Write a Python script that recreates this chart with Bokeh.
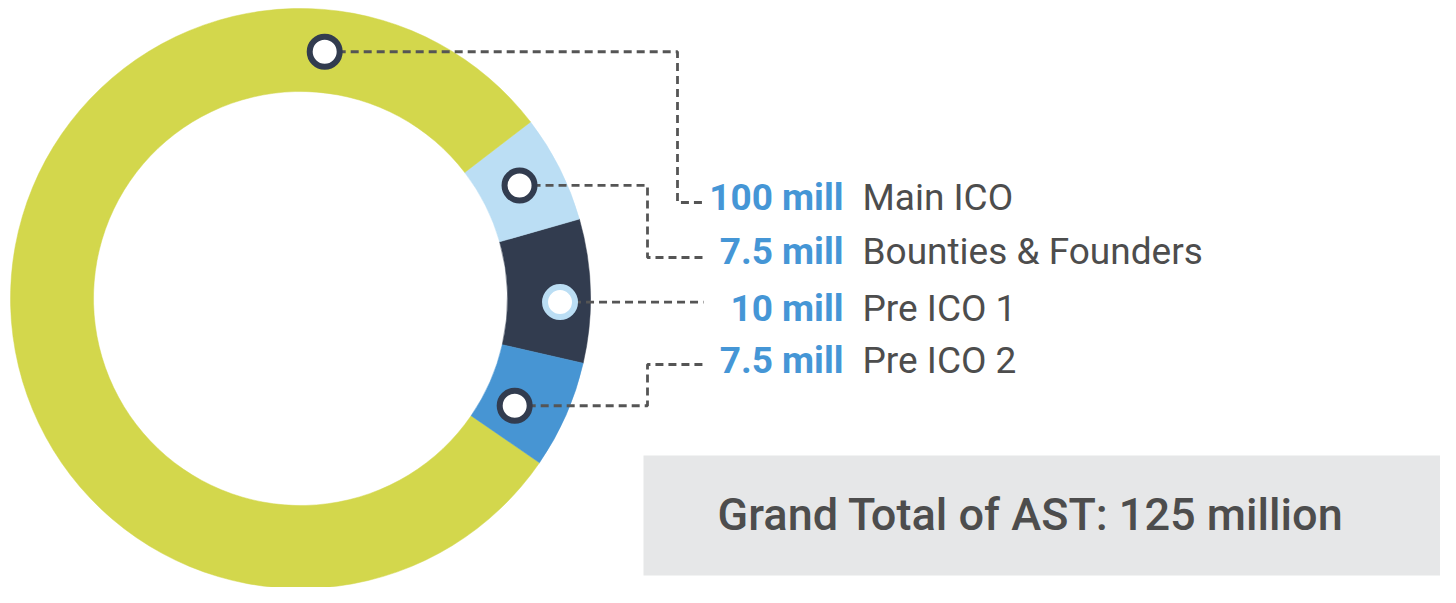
import math
from bokeh.plotting import figure
from bokeh.models import Range1d
from bokeh.core.properties import value
from bokeh.embed import file_html
from bokeh.resources import INLINE

# ---- data ----
categories = ["Pre ICO 1", "Bounties & Founders", "Main ICO", "Pre ICO 2"]
amounts = [10, 7.5, 100, 7.5]          # million AST
value_labels = ["10 mill", "7.5 mill", "100 mill", "7.5 mill"]
total_label = "Grand Total of AST: 125 million"
colors = ["#323c4f", "#bbdef4", "#d3d74c", "#4795d3"]

# legend order (top to bottom)
legend_order = ["Main ICO", "Bounties & Founders", "Pre ICO 1", "Pre ICO 2"]

# ---- layout constants (screen pixels, y measured from top) ----
W, H = 1440, 587
CX, CY = 300, H - 298
R_OUT, R_IN = 290, 207
ROT = math.radians(1.5)

p = figure(width=W, height=H, output_backend="svg", toolbar_location=None,
           x_range=Range1d(0, W), y_range=Range1d(0, H), min_border=0)
p.axis.visible = False
p.grid.visible = False
p.outline_line_color = None
p.background_fill_color = "white"
p.border_fill_color = "white"

total = sum(amounts)
starts, ends = [], []
a = -math.pi * amounts[0] / total + ROT
for v in amounts:
    starts.append(a)
    a += 2 * math.pi * v / total
    ends.append(a)

p.annular_wedge(x=CX, y=CY, inner_radius=R_IN, outer_radius=R_OUT,
                start_angle=starts, end_angle=ends, fill_color=colors,
                line_color=colors, line_width=0.5)

# marker positions (polar: degrees, fraction of outer radius) per category
marker_pos = {
    "Main ICO": (84.4, 0.855),
    "Bounties & Founders": (27.3, 0.85),
    "Pre ICO 1": (-0.8, 0.895),
    "Pre ICO 2": (-26.6, 0.826),
}
mk = {}
for k, (ang, fr) in marker_pos.items():
    r = fr * R_OUT
    mk[k] = (CX + r * math.cos(math.radians(ang)), CY + r * math.sin(math.radians(ang)))

# leader lines
TX = 703
elbow = {"Main ICO": 677, "Bounties & Founders": 647, "Pre ICO 2": 647}
text_mid = {"Main ICO": 197, "Bounties & Founders": 251, "Pre ICO 1": 308, "Pre ICO 2": 360}
line_y = {"Main ICO": 202, "Bounties & Founders": 257, "Pre ICO 1": 308, "Pre ICO 2": 364}
xs, ys = [], []
for k in legend_order:
    mx, my = mk[k]
    ly = H - line_y[k]
    if k in elbow:
        ex = elbow[k]
        xs.append([mx, ex, ex, TX])
        ys.append([my, my, ly, ly])
    else:
        xs.append([mx, TX])
        ys.append([my, my])
p.multi_line(xs, ys, line_color="#555555", line_width=2.8, line_dash="8 5")

# markers
mcolors = {"Pre ICO 1": "#bbdef4"}
p.scatter([mk[k][0] for k in legend_order], [mk[k][1] for k in legend_order],
          size=30, fill_color="white",
          line_color=[mcolors.get(k, "#323c4f") for k in legend_order], line_width=6)

# legend texts
vals = [value_labels[categories.index(k)] for k in legend_order]
ty = [H - text_mid[k] for k in legend_order]
p.text(x=[843] * 4, y=ty, text=vals,
       text_font=value("Roboto"), text_font_style="bold", text_font_size="37px",
       text_color="#4596d6", text_align="right", text_baseline="middle")
p.text(x=[862] * 4, y=ty, text=legend_order,
       text_font=value("Roboto"), text_font_size="37px",
       text_color="#4d4d4d", text_align="left", text_baseline="middle")

# grand total box
p.quad(left=643, right=W + 10, top=H - 455, bottom=H - 575, fill_color="#e6e7e8", line_color=None)
p.text(x=[717], y=[H - 514], text=[total_label],
       text_font=value("Roboto Medium, Roboto"), text_font_size="45px",
       text_color="#4d4d4d", text_align="left", text_baseline="middle")

open("out.html", "w").write(file_html(p, INLINE))
